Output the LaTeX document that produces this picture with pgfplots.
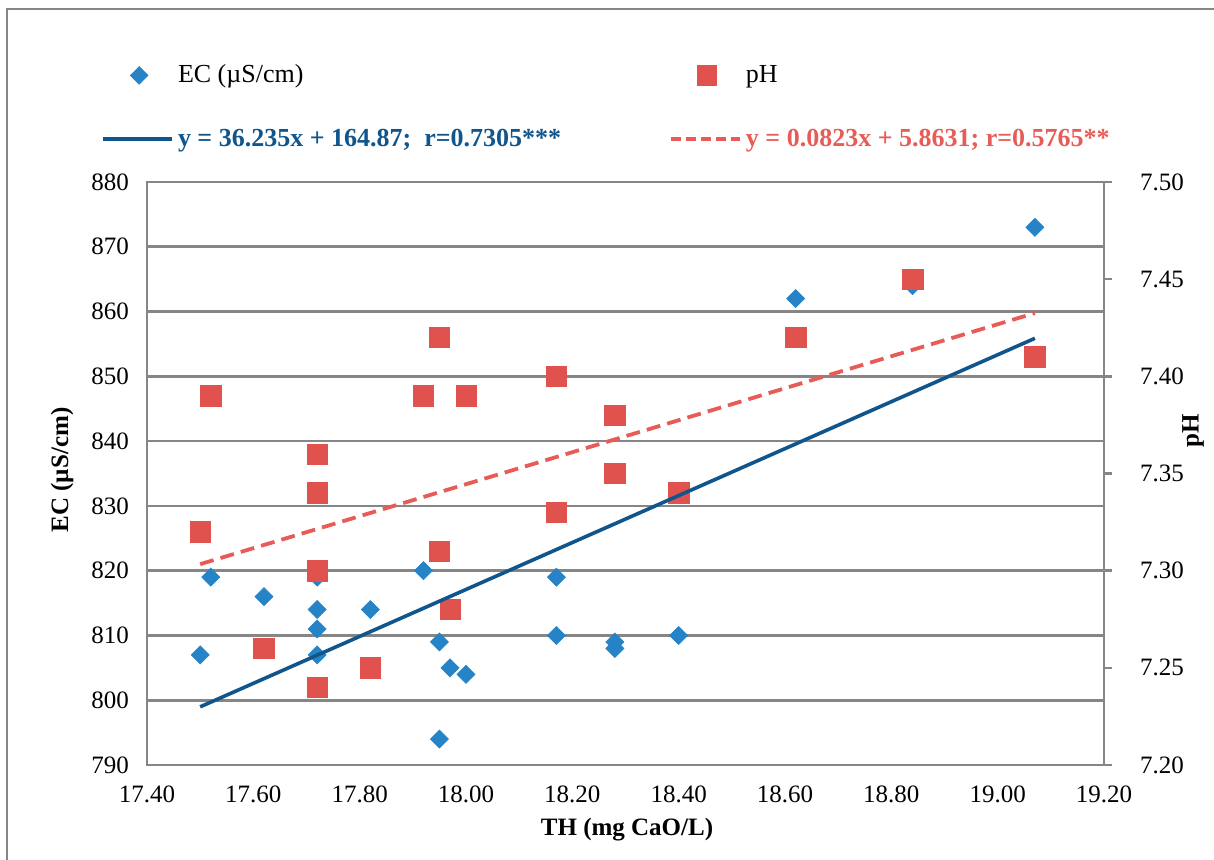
\documentclass[border=0pt]{standalone}
\usepackage{pgfplots}
\pgfplotsset{compat=1.18}
\usepackage{pgfplotstable}
\usepackage{fontspec}
\setmainfont{Liberation Serif}
\definecolor{ecblue}{RGB}{38,132,198}
\definecolor{phred}{RGB}{224,82,78}
\definecolor{trendblue}{RGB}{16,86,140}
\definecolor{trendred}{RGB}{232,92,88}
\definecolor{gridgray}{RGB}{134,134,134}

\pgfplotstableread{
x y
17.50 807
17.52 819
17.62 816
17.72 819
17.72 814
17.72 811
17.72 807
17.82 814
17.92 820
17.95 809
17.97 805
18.00 804
17.95 794
18.17 819
18.17 810
18.28 809
18.28 808
18.40 810
18.62 862
18.84 864
19.07 873
}\ectable

\pgfplotstableread{
x y
17.50 7.32
17.52 7.39
17.62 7.26
17.72 7.36
17.72 7.34
17.72 7.30
17.72 7.24
17.82 7.25
17.92 7.39
17.95 7.42
17.95 7.31
17.97 7.28
18.00 7.39
18.17 7.40
18.17 7.33
18.28 7.38
18.28 7.35
18.40 7.34
18.62 7.42
18.84 7.45
19.07 7.41
}\phtable

\newcommand{\fs}{\fontsize{12.5}{15}\selectfont}

\begin{document}
\begin{tikzpicture}[x=0.5pt,y=0.5pt]
\useasboundingbox (0,0) rectangle (1214,859);
\draw[gridgray, line width=1.2pt] (7,-20) -- (7,850) -- (1240,850);

\pgfplotsset{base/.style={
  at={(73.5pt,47pt)}, anchor=south west,
  scale only axis, width=478.5pt, height=291.5pt,
  xmin=17.4, xmax=19.2,
  /pgf/number format/assume math mode=true,
  tick label style={font=\fs},
}}

% Axis 1: EC scatter, grid, left and bottom labels
\begin{axis}[base,
  ymin=790, ymax=880,
  xtick={17.4,17.6,17.8,18,18.2,18.4,18.6,18.8,19,19.2},
  ytick={790,800,810,820,830,840,850,860,870,880},
  xticklabel style={yshift=-7pt, /pgf/number format/.cd, fixed, fixed zerofill, precision=2},
  yticklabel style={xshift=-5.5pt, /pgf/number format/.cd, fixed, precision=0},
  major tick length=0pt,
  ymajorgrids, major grid style={gridgray, line width=1.3pt},
  axis line style={gridgray, line width=1.3pt},
]
\addplot[only marks, mark=square*, mark size=3.2pt,
  mark options={rotate=45, fill=ecblue, draw=ecblue, line width=0.3pt}]
  table[x=x,y=y]{\ectable};
\end{axis}

% Axis 2: pH scatter, dashed trend, right axis, legend
\begin{axis}[base,
  ymin=7.2, ymax=7.5,
  axis x line=none, axis y line*=right,
  ytick={7.20,7.25,7.30,7.35,7.40,7.45,7.50},
  yticklabel style={xshift=10.5pt, /pgf/number format/.cd, fixed, fixed zerofill, precision=2},
  tick align=outside, major tick length=4pt,
  tick style={gridgray, line width=1.3pt},
  axis line style={gridgray, line width=1.3pt},
  legend columns=2, legend cell align=left,
  legend style={draw=none, fill=none, font=\fontsize{13}{15}\selectfont,
    at={(axis description cs:0.4812,1.1286)}, anchor=center,
    /tikz/every even column/.append style={column sep=52pt},
    row sep=17.5pt},
]
\addplot[only marks, mark=square*, mark size=5.1pt,
  mark options={fill=phred, draw=phred, line width=0.3pt}, forget plot]
  table[x=x,y=y]{\phtable};
\addplot[trendred, line width=1.9pt, dash pattern=on 7pt off 3.6pt, forget plot]
  coordinates {(17.50,7.30335) (19.07,7.43256)};

\addlegendimage{legend image code/.code={
  \draw[ecblue, fill=ecblue, rotate around={45:(18pt,0pt)}] (14.9pt,-3.1pt) rectangle (21.1pt,3.1pt);}}
\addlegendentry{EC (µS/cm)}
\addlegendimage{legend image code/.code={
  \fill[phred] (13pt,-4.8pt) rectangle (22.6pt,4.8pt);}}
\addlegendentry{pH}
\addlegendimage{legend image code/.code={
  \draw[trendblue, line width=1.8pt] (0pt,0pt) -- (34.5pt,0pt);}}
\addlegendentry{\textcolor{trendblue}{\textbf{y = 36.235x + 164.87;\ \ r=0.7305***}}}
\addlegendimage{legend image code/.code={
  \draw[trendred, line width=1.9pt, dash pattern=on 5pt off 2.5pt] (0pt,0pt) -- (34.5pt,0pt);}}
\addlegendentry{\textcolor{trendred}{\textbf{y = 0.0823x + 5.8631; r=0.5765**}}}
\end{axis}

% Axis 3: EC trend line on top
\begin{axis}[base,
  ymin=790, ymax=880,
  axis lines=none,
]
\addplot[trendblue, line width=1.8pt]
  coordinates {(17.50,798.98) (19.07,855.87)};
\end{axis}

\node[font=\fs\bfseries] at (627,29) {TH (mg CaO/L)};
\node[font=\fs\bfseries, rotate=90] at (62,389) {EC (µS/cm)};
\node[font=\fs\bfseries, rotate=90] at (1193,428) {pH};
\end{tikzpicture}
\end{document}
